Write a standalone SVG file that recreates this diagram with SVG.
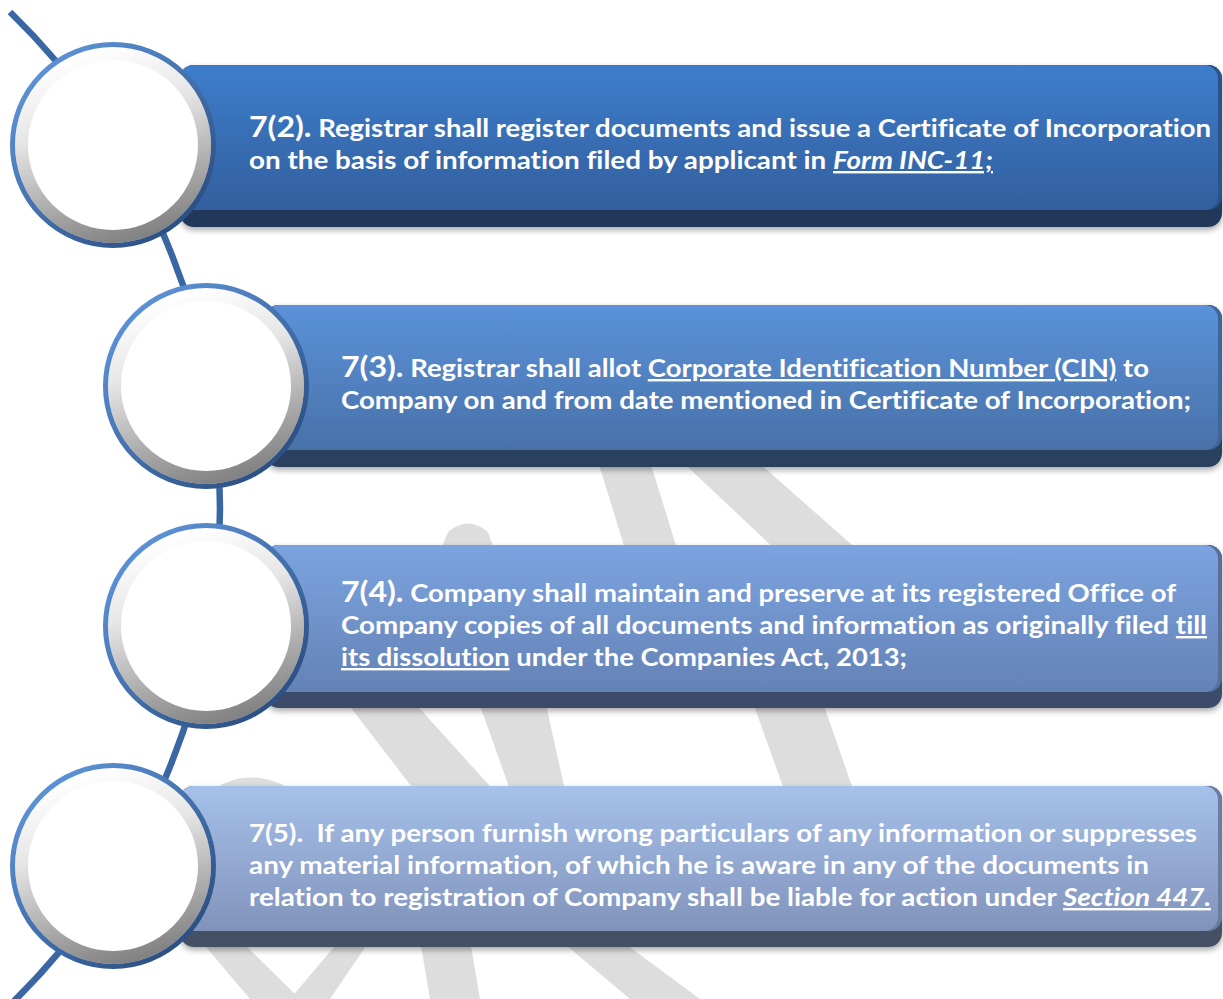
<svg xmlns="http://www.w3.org/2000/svg" width="1223" height="999" viewBox="0 0 1223 999">
  <defs>
    <linearGradient id="g1" x1="0" y1="0" x2="0" y2="1"><stop offset="0" stop-color="#3d7dcb"/><stop offset="1" stop-color="#335f9e"/></linearGradient>
    <linearGradient id="g2" x1="0" y1="0" x2="0" y2="1"><stop offset="0" stop-color="#5b92da"/><stop offset="1" stop-color="#4871a8"/></linearGradient>
    <linearGradient id="g3" x1="0" y1="0" x2="0" y2="1"><stop offset="0" stop-color="#7ca4e0"/><stop offset="1" stop-color="#6482b5"/></linearGradient>
    <linearGradient id="g4" x1="0" y1="0" x2="0" y2="1"><stop offset="0" stop-color="#a6c1ea"/><stop offset="1" stop-color="#8193bb"/></linearGradient>
    <linearGradient id="ringBlue" x1="0.15" y1="0.1" x2="0.85" y2="0.9"><stop offset="0" stop-color="#5c92d6"/><stop offset="1" stop-color="#2c4f82"/></linearGradient>
    <linearGradient id="ringGray" x1="0.35" y1="0" x2="0.65" y2="1"><stop offset="0" stop-color="#ffffff"/><stop offset="0.35" stop-color="#e6e6e6"/><stop offset="1" stop-color="#828282"/></linearGradient>
    <filter id="shadow" x="-5%" y="-10%" width="110%" height="130%"><feGaussianBlur in="SourceAlpha" stdDeviation="3"/><feOffset dx="0" dy="3" result="b"/><feComponentTransfer><feFuncA type="linear" slope="0.35"/></feComponentTransfer><feMerge><feMergeNode/><feMergeNode in="SourceGraphic"/></feMerge></filter>
  </defs>
  <style>
    .wm { fill: #dddddd; }
    .txt { font-family: Lato, "Open Sans", "Liberation Sans", sans-serif; font-weight: bold; font-size: 24px; fill: #ffffff; font-variant-ligatures: none; }
    .big { font-size: 28px; }
    .u { text-decoration: underline; }
    .i { font-style: italic; }
    .arc { fill: none; stroke: #3a67a3; stroke-width: 6.5; }
    .blue { fill: none; stroke: url(#ringBlue); stroke-width: 5; }
    .gray { fill: none; stroke: url(#ringGray); stroke-width: 13; }
  </style>

  <g id="watermark">
    <polygon class="wm" points="596,455 648,455 678,552 626,552"/>
    <polygon class="wm" points="675,455 750,455 860,552 778,552"/>
    <path class="wm" d="M440,552 L448,532 Q468,515 488,532 L495,552 Z"/>
    <polygon class="wm" points="345,700 412,700 498,795 418,795"/>
    <polygon class="wm" points="478,700 545,700 566,795 512,795"/>
    <polygon class="wm" points="752,700 822,700 855,795 786,795"/>
    <path class="wm" d="M205,795 Q250,760 300,795 Z"/>
    <polygon class="wm" points="200,940 240,940 300,999 250,999"/>
    <polygon class="wm" points="290,999 340,940 370,940 330,999"/>
    <polygon class="wm" points="420,940 470,940 480,999 430,999"/>
    <polygon class="wm" points="560,940 620,940 700,999 630,999"/>
  </g>

  <g id="connectors">
    <path class="arc" d="M 10 12 A 692 692 0 0 1 10 1005"/>
  </g>

  <g id="box1" filter="url(#shadow)">
    <rect x="180" y="65" width="1042" height="162" rx="14" fill="#22375a"/>
    <rect x="180" y="65" width="1042" height="145" rx="14" fill="#2c5288"/>
    <rect x="180" y="65" width="1038" height="145" rx="14" fill="url(#g1)"/>
  </g>
  <g id="box2" filter="url(#shadow)">
    <rect x="265" y="305" width="957" height="162" rx="14" fill="#2b3f5e"/>
    <rect x="265" y="305" width="957" height="145" rx="14" fill="#3f6599"/>
    <rect x="265" y="305" width="953" height="145" rx="14" fill="url(#g2)"/>
  </g>
  <g id="box3" filter="url(#shadow)">
    <rect x="265" y="545" width="957" height="163" rx="14" fill="#3a4b69"/>
    <rect x="265" y="545" width="957" height="147" rx="14" fill="#566f9c"/>
    <rect x="265" y="545" width="953" height="147" rx="14" fill="url(#g3)"/>
  </g>
  <g id="box4" filter="url(#shadow)">
    <rect x="180" y="786" width="1042" height="161" rx="14" fill="#454f66"/>
    <rect x="180" y="786" width="1042" height="145" rx="14" fill="#6c7ca0"/>
    <rect x="180" y="786" width="1038" height="145" rx="14" fill="url(#g4)"/>
  </g>

  <g id="circle1">
    <circle cx="113" cy="145" r="100" fill="#ffffff"/>
    <circle cx="113" cy="145" r="91.5" class="gray"/>
    <circle cx="113" cy="145" r="100.5" class="blue"/>
  </g>
  <g id="circle2">
    <circle cx="206" cy="386" r="100" fill="#ffffff"/>
    <circle cx="206" cy="386" r="91.5" class="gray"/>
    <circle cx="206" cy="386" r="100.5" class="blue"/>
  </g>
  <g id="circle3">
    <circle cx="206" cy="626" r="100" fill="#ffffff"/>
    <circle cx="206" cy="626" r="91.5" class="gray"/>
    <circle cx="206" cy="626" r="100.5" class="blue"/>
  </g>
  <g id="circle4">
    <circle cx="113" cy="866" r="100" fill="#ffffff"/>
    <circle cx="113" cy="866" r="91.5" class="gray"/>
    <circle cx="113" cy="866" r="100.5" class="blue"/>
  </g>

  <g id="text1">
    <text class="txt" x="249" y="137" textLength="962" lengthAdjust="spacingAndGlyphs"><tspan class="big">7(2).</tspan> Registrar shall register documents and issue a Certificate of Incorporation</text>
    <text class="txt" x="249" y="169" textLength="744" lengthAdjust="spacingAndGlyphs">on the basis of information filed by applicant in <tspan class="i u">Form INC-11;</tspan></text>
  </g>
  <g id="text2">
    <text class="txt" x="341" y="377" textLength="808" lengthAdjust="spacingAndGlyphs"><tspan class="big">7(3).</tspan> Registrar shall allot <tspan class="u">Corporate Identification Number (CIN)</tspan> to</text>
    <text class="txt" x="341" y="409" textLength="850" lengthAdjust="spacingAndGlyphs">Company on and from date mentioned in Certificate of Incorporation;</text>
  </g>
  <g id="text3">
    <text class="txt" x="341" y="602" textLength="835" lengthAdjust="spacingAndGlyphs"><tspan class="big">7(4).</tspan> Company shall maintain and preserve at its registered Office of</text>
    <text class="txt" x="341" y="634" textLength="866" lengthAdjust="spacingAndGlyphs">Company copies of all documents and information as originally filed <tspan class="u">till</tspan></text>
    <text class="txt" x="341" y="666" textLength="566" lengthAdjust="spacingAndGlyphs"><tspan class="u">its dissolution</tspan> under the Companies Act, 2013;</text>
  </g>
  <g id="text4">
    <text class="txt" x="249" y="842" textLength="948" lengthAdjust="spacingAndGlyphs" style="white-space:pre">7(5).  If any person furnish wrong particulars of any information or suppresses</text>
    <text class="txt" x="249" y="874" textLength="900" lengthAdjust="spacingAndGlyphs">any material information, of which he is aware in any of the documents in</text>
    <text class="txt" x="249" y="906" textLength="962" lengthAdjust="spacingAndGlyphs">relation to registration of Company shall be liable for action under <tspan class="i u">Section 447.</tspan></text>
  </g>
</svg>
